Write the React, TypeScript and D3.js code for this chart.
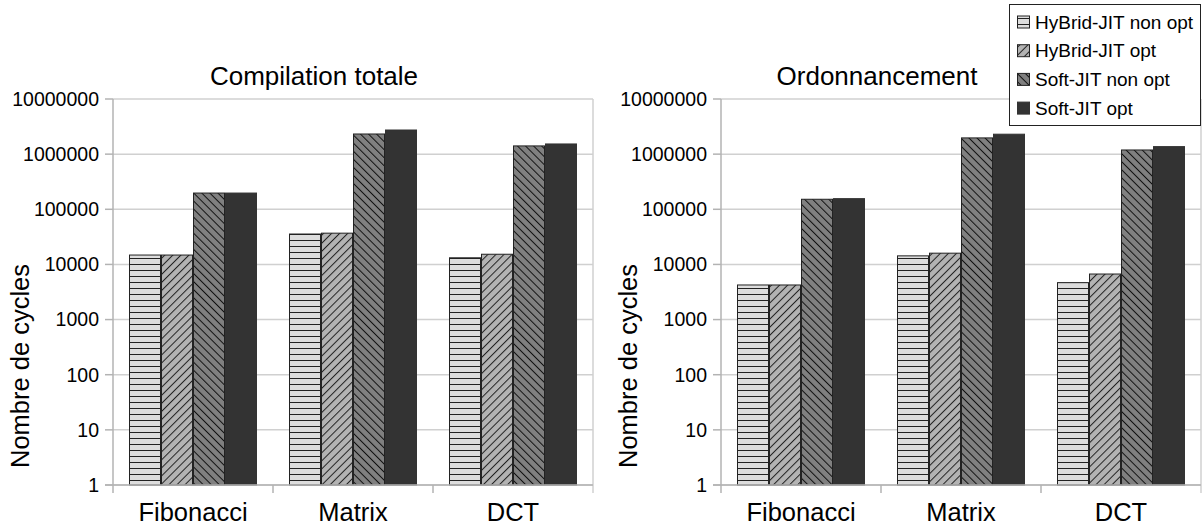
import * as d3 from 'd3';

const categories = ['Fibonacci', 'Matrix', 'DCT'];
const seriesNames = ['HyBrid-JIT non opt', 'HyBrid-JIT opt', 'Soft-JIT non opt', 'Soft-JIT opt'];
const tickValues = [1, 10, 100, 1000, 10000, 100000, 1000000, 10000000];

// compilation totale, one array per series (Fibonacci, Matrix, DCT)
const compHybridNonOpt = [14800, 35600, 13200];
const compHybridOpt = [14800, 36900, 15300];
const compSoftNonOpt = [197000, 2320000, 1410000];
const compSoftOpt = [197000, 2740000, 1530000];

// ordonnancement
const ordHybridNonOpt = [4240, 14300, 4670];
const ordHybridOpt = [4240, 16000, 6700];
const ordSoftNonOpt = [152000, 1970000, 1190000];
const ordSoftOpt = [156000, 2300000, 1370000];

const FONT = '"Liberation Sans", Arial, sans-serif';
const fills = ['url(#pHoriz)', 'url(#pFwd)', 'url(#pBack)', '#333333'];
const strokes = ['#222', '#222', '#222', '#333333'];

const TOP = 99;
const BOTTOM = 485;
const PLOT_W = 480;

const y = d3.scaleLog().domain([1, 10000000]).range([BOTTOM, TOP]);

type ChartProps = { x0: number; title: string; titleX: number; series: number[][] };

const Chart = ({ x0, title, titleX, series }: ChartProps) => {
  const x = d3.scaleBand<string>().domain(categories).range([x0, x0 + PLOT_W]);
  const inner = d3.scaleBand<number>()
    .domain(d3.range(seriesNames.length))
    .range([0, x.bandwidth()])
    .paddingInner(0)
    .paddingOuter(0.5);

  return (
    <g>
      <text x={titleX} y={85} textAnchor="middle" fontSize={26} fontFamily={FONT}>{title}</text>
      {tickValues.map(t => (
        <g key={t}>
          <line x1={x0} x2={x0 + PLOT_W} y1={y(t)} y2={y(t)} stroke="#d0d0d0" strokeWidth={1.5} />
          <line x1={x0 - 8} x2={x0} y1={y(t)} y2={y(t)} stroke="#b3b3b3" strokeWidth={1.5} />
          <text x={x0 - 14} y={y(t)} dy="0.35em" textAnchor="end" fontSize={19.5} fontFamily={FONT}>{t}</text>
        </g>
      ))}
      <line x1={x0 + PLOT_W} x2={x0 + PLOT_W} y1={TOP} y2={BOTTOM + 8} stroke="#d0d0d0" strokeWidth={1.5} />
      {series.map((vals, si) => (
        <g key={si}>
          {vals.map((v, ci) => {
            const bx = (x(categories[ci]) as number) + (inner(si) as number);
            return (
              <rect key={ci} x={bx + 0.5} y={y(v)} width={inner.bandwidth() - 1}
                height={BOTTOM - y(v)} fill={fills[si]} stroke={strokes[si]} strokeWidth={1} />
            );
          })}
        </g>
      ))}
      <line x1={x0} x2={x0} y1={TOP} y2={BOTTOM} stroke="#b3b3b3" strokeWidth={1.5} />
      <line x1={x0 - 8} x2={x0 + PLOT_W} y1={BOTTOM} y2={BOTTOM} stroke="#b3b3b3" strokeWidth={1.5} />
      {categories.map((c, i) => (
        <line key={c} x1={x0 + i * x.step()} x2={x0 + i * x.step()} y1={BOTTOM} y2={BOTTOM + 8} stroke="#b3b3b3" strokeWidth={1.5} />
      ))}
      {categories.map(c => (
        <text key={c} x={(x(c) as number) + x.bandwidth() / 2} y={521} textAnchor="middle" fontSize={25.5} fontFamily={FONT}>{c}</text>
      ))}
      <text transform={`translate(${x0 - 84},${366}) rotate(-90)`} textAnchor="middle" fontSize={25.5} fontFamily={FONT}>Nombre de cycles</text>
    </g>
  );
};

const Legend = () => (
  <g>
    <rect x={1009.5} y={4.5} width={191} height={121} fill="#fff" stroke="#222" strokeWidth={1} />
    {seriesNames.map((s, i) => {
      const cy = 22 + i * 28.7;
      return (
        <g key={s}>
          <rect x={1017.5} y={cy - 6} width={12} height={12} fill={fills[i]} stroke={strokes[i]} strokeWidth={1} />
          <text x={1035} y={cy} dy="0.35em" fontSize={19} fontFamily={FONT}>{s}</text>
        </g>
      );
    })}
  </g>
);

export default function App() {
  return (
    <svg width={1204} height={526} style={{ position: 'absolute', left: 0, top: 0, display: 'block', background: '#fff' }}>
      <defs>
        <pattern id="pHoriz" patternUnits="userSpaceOnUse" width={8} height={6}>
          <rect width={8} height={6} fill="#dddddd" />
          <line x1={0} x2={8} y1={0.5} y2={0.5} stroke="#222" strokeWidth={1} />
        </pattern>
        <pattern id="pFwd" patternUnits="userSpaceOnUse" width={5.7} height={5.7} patternTransform="rotate(45)">
          <rect width={5.7} height={5.7} fill="#b3b3b3" />
          <line x1={0.5} x2={0.5} y1={0} y2={5.7} stroke="#222" strokeWidth={1} />
        </pattern>
        <pattern id="pBack" patternUnits="userSpaceOnUse" width={5.7} height={5.7} patternTransform="rotate(-45)">
          <rect width={5.7} height={5.7} fill="#808080" />
          <line x1={0.5} x2={0.5} y1={0} y2={5.7} stroke="#111" strokeWidth={1} />
        </pattern>
      </defs>
      <Chart x0={113} title="Compilation totale" titleX={314} series={[compHybridNonOpt, compHybridOpt, compSoftNonOpt, compSoftOpt]} />
      <Chart x0={721} title="Ordonnancement" titleX={877} series={[ordHybridNonOpt, ordHybridOpt, ordSoftNonOpt, ordSoftOpt]} />
      <Legend />
    </svg>
  );
}
